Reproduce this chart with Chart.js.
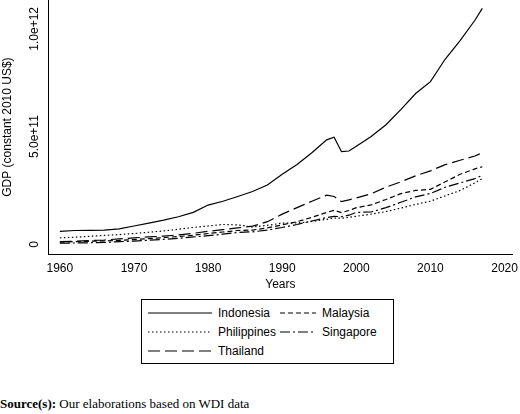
<!DOCTYPE html>
<html><head><script src="https://cdn.jsdelivr.net/npm/chart.js@4"></script>
<style>body{margin:0;background:#fff;font-family:"Liberation Serif","Times New Roman",serif;}
#wrap{position:relative;width:520px;height:292px}
#legend{position:absolute;left:141px;top:299px;width:253px;height:65px;border:1px solid #000;font-family:Arial,"Liberation Sans",sans-serif;font-size:12px;box-sizing:border-box}
.it{position:absolute;display:flex;align-items:center}
.it svg{margin-right:6px}
#src{position:absolute;left:0;top:396px;font-size:13px}
</style></head><body>
<div id="wrap"><canvas id="c" width="520" height="292"></canvas></div>
<div id="legend">
<div class="it" style="left:6px;top:6px"><svg width="64" height="4"><line x1="0" y1="2" x2="64" y2="2" stroke="#000" stroke-width="1.2"/></svg>Indonesia</div>
<div class="it" style="left:138px;top:6px"><svg width="36" height="4"><line x1="0" y1="2" x2="36" y2="2" stroke="#000" stroke-width="1.2" stroke-dasharray="5,3"/></svg>Malaysia</div>
<div class="it" style="left:6px;top:25px"><svg width="64" height="4"><line x1="0" y1="2" x2="64" y2="2" stroke="#000" stroke-width="1.2" stroke-dasharray="1.5,2.5"/></svg>Philippines</div>
<div class="it" style="left:138px;top:25px"><svg width="36" height="4"><line x1="0" y1="2" x2="36" y2="2" stroke="#000" stroke-width="1.2" stroke-dasharray="10,3,2,3"/></svg>Singapore</div>
<div class="it" style="left:6px;top:44px"><svg width="64" height="4"><line x1="0" y1="2" x2="64" y2="2" stroke="#000" stroke-width="1.2" stroke-dasharray="12,5"/></svg>Thailand</div>
</div>
<div id="src"><b>Source(s):</b> Our elaborations based on WDI data</div>
<script>
const years=[1960,1962,1964,1966,1968,1970,1972,1974,1976,1978,1980,1982,1984,1986,1988,1990,1992,1994,1996,1997,1998,1999,2000,2002,2004,2006,2008,2010,2012,2014,2016,2017];
const indonesia=[60,64,65,66,72,85,98,112,128,148,182,200,222,245,275,325,370,425,485,497,430,433,455,500,555,625,700,755,860,945,1040,1095];
const malaysia=[10,12,14,16,18,22,26,31,36,42,50,57,64,66,76,90,105,125,148,158,147,157,170,183,208,235,250,255,290,325,350,360];
const philippines=[30,33,37,41,45,50,56,62,70,78,85,92,90,80,88,98,99,106,116,122,121,125,130,140,152,168,185,200,225,250,285,305];
const singapore=[5,6,7,9,12,15,19,23,28,34,40,47,55,58,66,78,92,108,124,130,128,135,148,150,170,195,220,236,265,285,305,320];
const thailand=[12,14,17,20,25,30,34,38,44,51,60,68,76,84,105,140,170,200,228,222,198,206,215,235,265,290,318,341,370,390,410,425];
const xTicks=[1960,1970,1980,1990,2000,2010,2020];
const yTicks=[0,5e11,1e12];
const yLabels=["0","5.0e+11","1.0e+12"];
const mk=(arr,dash)=>({data:years.map((y,i)=>({x:y,y:arr[i]*1e9})),borderColor:'#000',borderWidth:1.2,borderDash:dash,pointRadius:0,tension:0,fill:false});
const rotY={id:'rotY',afterDraw(ch){const c=ch.ctx,s=ch.scales.y;c.save();c.fillStyle='#000';c.font='12px Arial, "Liberation Sans"';c.textAlign='center';
yTicks.forEach((v,i)=>{const py=s.getPixelForValue(v);c.save();c.translate(s.right-10,py);c.rotate(-Math.PI/2);c.fillText(yLabels[i],0,0);c.restore();});
c.restore();}};
new Chart(document.getElementById('c'),{type:'line',data:{datasets:[mk(indonesia,[]),mk(malaysia,[5,3]),mk(philippines,[1.5,2.5]),mk(singapore,[10,3,2,3]),mk(thailand,[12,5])]},
options:{responsive:false,animation:false,layout:{padding:{top:0,right:5}},plugins:{legend:{display:false},tooltip:{enabled:false}},
scales:{x:{type:'linear',min:1958.4,max:2021.1,afterBuildTicks:a=>{a.ticks=xTicks.map(v=>({value:v}))},grid:{display:false,drawTicks:true,tickLength:5,tickColor:'#000'},border:{color:'#000'},
ticks:{color:'#000',font:{size:12,family:'Arial'},maxRotation:0,padding:2,callback:v=>String(v)},title:{display:true,text:'Years',color:'#000',font:{size:12,family:'Arial'},padding:0}},
y:{min:-0.046e12,max:1.134e12,afterBuildTicks:a=>{a.ticks=yTicks.map(v=>({value:v}))},afterFit:a=>{a.width=48},grid:{display:false,tickLength:5,tickColor:'#000'},border:{color:'#000'},
ticks:{display:false},title:{display:true,text:'GDP (constant 2010 US$)',color:'#000',font:{size:12,family:'Arial'},padding:0}}}},plugins:[rotY]});
</script></body></html>
